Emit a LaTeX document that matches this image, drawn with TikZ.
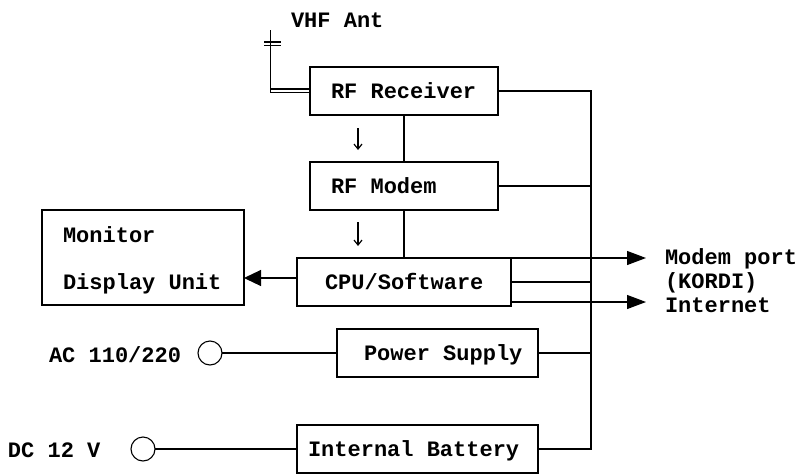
\documentclass[tikz,border=0pt]{standalone}
\usepackage{fontspec}
\setmainfont{Liberation Mono}
\usetikzlibrary{arrows.meta}
\newcommand{\gapsp}{\hspace{13.2pt}}
\tikzset{
  x=1pt,y=-1pt,
  blockbox/.style={draw,line width=1.2pt,inner sep=0,outer sep=0,anchor=north west,
    font=\fontsize{22}{47}\selectfont\bfseries,text height=31pt,text depth=17pt},
  wire/.style={line width=1.2pt},
  heavywire/.style={line width=1.7pt},
  txt/.style={font=\fontsize{22}{24}\selectfont\bfseries,inner sep=0,outer sep=0,anchor=base west},
  port/.style={draw,circle,line width=1.1pt,minimum size=24pt,inner sep=0,outer sep=0},
  bigarrow/.style={wire,-{Triangle[length=19pt,width=14pt]}},
  thinarrow/.style={line width=1.2pt,-{Straight Barb[length=5pt,width=8pt]}}
}
\begin{document}
\begin{tikzpicture}
\useasboundingbox (0,0) rectangle (800,474);
\node[blockbox,text width=188pt] (rf) at (310,67) {\hspace*{21pt}RF\gapsp Receiver};
\node[blockbox,text width=188pt] (modem) at (310,162) {\hspace*{21pt}RF\gapsp Modem};
\node[blockbox,text width=202pt,text height=32pt,text depth=63pt] (mon) at (42,210) {\hspace*{21pt}Monitor\\\hspace*{21pt}Display\gapsp Unit};
\node[blockbox,text width=214pt] (cpu) at (297,258) {\hspace*{28pt}CPU/Software};
\node[blockbox,text width=201pt] (ps) at (337,329) {\hspace*{27pt}Power\gapsp Supply};
\node[blockbox,text width=241pt] (bat) at (297,425) {\hspace*{11pt}Internal\gapsp Battery};
\node[txt] (vhf) at (291,27) {VHF Ant};
\node[txt] (mp) at (665,264) {Modem port};
\node[txt] (ko) at (665,288) {(KORDI)};
\node[txt] (in) at (665,312) {Internet};
\node[txt] (ac) at (49,362) {AC 110/220};
\node[txt] (dc) at (8,457) {DC 12 V};
\node[port] (c1) at (210,353) {};
\node[port] (c2) at (143,449) {};
\draw[heavywire] (c1) -- (c1 -| ps.west);
\draw[heavywire] (c2) -- (c2 -| bat.west);
% antenna
\coordinate (anttop) at (270.5,30);
\coordinate (antin) at (310,89);
\coordinate (antin2) at (310,92.5);
\coordinate (plateA) at (264,42);
\coordinate (plateAe) at (281,42);
\coordinate (plateB) at (264,45.5);
\coordinate (plateBe) at (281,45.5);
\draw[wire] (anttop) |- (antin2);
\draw[wire] (antin -| anttop) -- (antin);
\draw[wire] (plateA) -- (plateAe);
\draw[wire] (plateB) -- (plateBe);
% internal links
\draw[wire] (rf.south) -- (modem.north);
\draw[wire] (modem.south) -- (modem.south |- cpu.north);
\coordinate (a1s) at (358,128); \coordinate (a1e) at (358,150);
\coordinate (a2s) at (358,222); \coordinate (a2e) at (358,246);
\draw[thinarrow] (a1s) -- (a1e);
\draw[thinarrow] (a2s) -- (a2e);
% bus
\coordinate (bus) at (591,90);
\draw[wire] (rf.east) -| (bus |- bat.east) -- (bat.east);
\draw[wire] (modem.east) -- (modem.east -| bus);
\draw[wire] (ps.east) -- (ps.east -| bus);
\draw[wire] (cpu.east) -- (cpu.east -| bus);
\coordinate (cpuo) at (511,302);
\draw[bigarrow,shorten >=19pt] (cpu.north east) -- (cpu.north east -| mp.west);
\draw[bigarrow,shorten >=19pt] (cpuo) -- (cpuo -| in.west);
\coordinate (mona) at (297,278);
\draw[wire,-{Triangle[length=17pt,width=16pt]}] (mona) -- (mona -| mon.east);
\end{tikzpicture}
\end{document}
